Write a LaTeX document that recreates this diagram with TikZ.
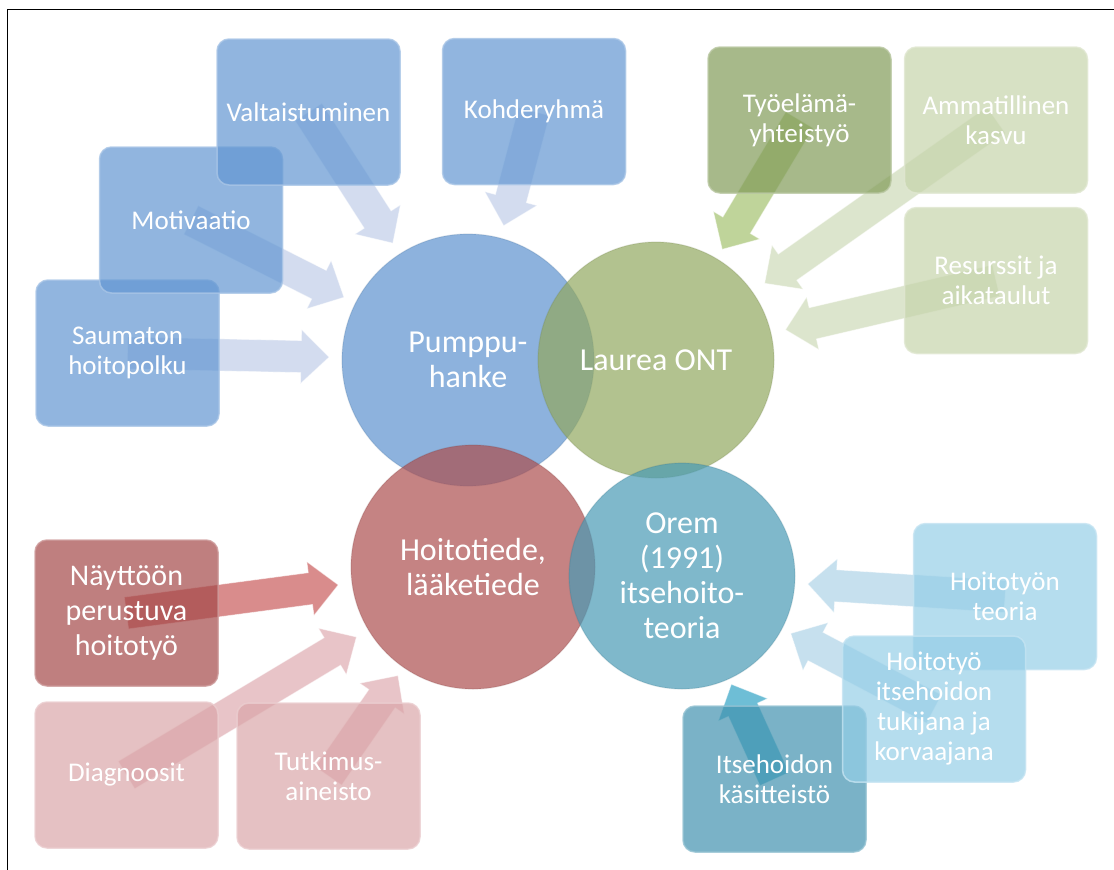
\documentclass[tikz,border=0pt]{standalone}
\usepackage{fontspec}
\setmainfont{Carlito}
\usetikzlibrary{calc}

\definecolor{cBlue}{RGB}{92,146,206}
\definecolor{cGreen}{RGB}{146,168,95}
\definecolor{cRed}{RGB}{172,78,78}
\definecolor{cTeal}{RGB}{72,154,181}
\definecolor{bBlue}{RGB}{98,150,210}
\definecolor{bGreenD}{RGB}{129,155,88}
\definecolor{bGreenL}{RGB}{198,212,171}
\definecolor{bRedD}{RGB}{164,72,72}
\definecolor{bRedL}{RGB}{218,166,169}
\definecolor{bCyanL}{RGB}{149,206,231}
\definecolor{bTeal}{RGB}{65,146,175}
\definecolor{aBlue}{RGB}{211,220,239}
\definecolor{aGreenD}{RGB}{191,212,154}
\definecolor{aGreenL}{RGB}{220,229,205}
\definecolor{aRedD}{RGB}{217,140,140}
\definecolor{aRedL}{RGB}{232,196,200}
\definecolor{aCyanL}{RGB}{198,224,238}
\definecolor{aTeal}{RGB}{110,190,214}

\tikzset{
  circ/.style={circle, inner sep=0pt, minimum size=#1, fill opacity=0.7, text opacity=1,
    text=white, align=center, font=\fontsize{32}{35}\selectfont, line width=1.2pt, draw opacity=0.18},
  bx/.style={rounded corners=12pt, minimum width=183pt, minimum height=146pt, inner sep=2pt,
    fill=#1, draw=#1!55!white, line width=1.5pt, draw opacity=0.8, fill opacity=0.7, text opacity=1,
    text=white, align=center, font=\fontsize{27}{30}\selectfont},
  bigtext/.style={font=\fontsize{30}{35}\selectfont},
  frameline/.style={line width=1.6pt, draw=black}
}

% #1 colour, #2 box node, #3 circle node, #4 distance of tip from circle centre
\newcommand\blockarrow[4]{%
  \coordinate (tipA) at ($(#3.center)!#4!(#2.center)$);
  \coordinate (baseA) at ($(tipA)!28pt!(#2.center)$);
  \fill[#1, draw=white, draw opacity=0.5, line width=0.8pt, line join=miter]
    ($(#2.center)!16pt!90:(tipA)$) -- ($(baseA)!16pt!90:(tipA)$) -- ($(baseA)!27pt!90:(tipA)$)
    -- (tipA) -- ($(baseA)!27pt!-90:(tipA)$) -- ($(baseA)!16pt!-90:(tipA)$)
    -- ($(#2.center)!16pt!-90:(tipA)$) -- cycle;
}

\begin{document}
\begin{tikzpicture}[x=1pt, y=-1pt]
\useasboundingbox (0,0) rectangle (1114,870);
\begin{scope}
\clip (0,0) rectangle (1114,870);
\draw[frameline] (7.5,900) -- (7.5,9.5) -- (1140,9.5);
\end{scope}

% centres of circles (coordinates only, for arrows)
\coordinate (cpump) at (468,360);
\coordinate (claur) at (656,360);
\coordinate (choit) at (473,567);
\coordinate (corem) at (682,576);

% box anchors (centres)
\coordinate (pvalt) at (308.5,112);
\coordinate (pkohd) at (534,111.5);
\coordinate (pmoti) at (191,220);
\coordinate (psaum) at (127.5,353);
\coordinate (ptyo)  at (799.5,120);
\coordinate (pamma) at (996,120);
\coordinate (presu) at (996,280.5);
\coordinate (pnayt) at (126.5,613);
\coordinate (pdiag) at (126.5,775);
\coordinate (ptutk) at (328.5,776);
\coordinate (phteo) at (1005,596.5);
\coordinate (phits) at (934,709);
\coordinate (pitse) at (774.5,779);

% arrows (under boxes)
\blockarrow{aBlue}{pvalt}{cpump}{139pt}
\blockarrow{aBlue}{pkohd}{cpump}{139pt}
\blockarrow{aBlue}{pmoti}{cpump}{139pt}
\blockarrow{aBlue}{psaum}{cpump}{139pt}
\blockarrow{aGreenD}{ptyo}{claur}{129pt}
\blockarrow{aGreenL}{pamma}{claur}{133pt}
\blockarrow{aGreenL}{presu}{claur}{133pt}
\blockarrow{aRedD}{pnayt}{choit}{136pt}
\blockarrow{aRedL}{pdiag}{choit}{136pt}
\blockarrow{aRedL}{ptutk}{choit}{132pt}
\blockarrow{aCyanL}{phteo}{corem}{126pt}
\blockarrow{aCyanL}{phits}{corem}{123pt}
\blockarrow{aTeal}{pitse}{corem}{119pt}

% boxes
\node[bx=bBlue] (saum) at (psaum) {Saumaton\\hoitopolku};
\node[bx=bBlue] (moti) at (pmoti) {Motivaatio};
\node[bx=bBlue] (valt) at (pvalt) {Valtaistuminen};
\node[bx=bBlue] (kohd) at (pkohd) {Kohderyhmä};
\node[bx=bGreenD] (tyo) at (ptyo) {Työelämä-\\yhteistyö};
\node[bx=bGreenL] (amma) at (pamma) {Ammatillinen\\kasvu};
\node[bx=bGreenL] (resu) at (presu) {Resurssit ja\\aikataulut};
\node[bx=bRedD, bigtext] (nayt) at (pnayt) {Näyttöön\\perustuva\\hoitotyö};
\node[bx=bRedL] (diag) at (pdiag) {Diagnoosit};
\node[bx=bRedL] (tutk) at (ptutk) {Tutkimus-\\aineisto};
\node[bx=bCyanL] (hteo) at (phteo) {Hoitotyön\\teoria};
\node[bx=bTeal] (itse) at (pitse) {Itsehoidon\\käsitteistö};
\node[bx=bCyanL] (hits) at (phits) {Hoitotyö\\itsehoidon\\tukijana ja\\korvaajana};

% circles
\node[circ=252pt, fill=cBlue, draw=cBlue!70!black] (pump) at (cpump) {Pumppu-\\hanke};
\node[circ=236pt, fill=cGreen, draw=cGreen!70!black] (laur) at (claur) {Laurea ONT};
\node[circ=244pt, fill=cRed, draw=cRed!70!black] (hoit) at (choit) {Hoitotiede,\\lääketiede};
\node[circ=226pt, fill=cTeal, draw=cTeal!70!black] (orem) at (corem) {Orem\\(1991)\\itsehoito-\\teoria};
\end{tikzpicture}
\end{document}
